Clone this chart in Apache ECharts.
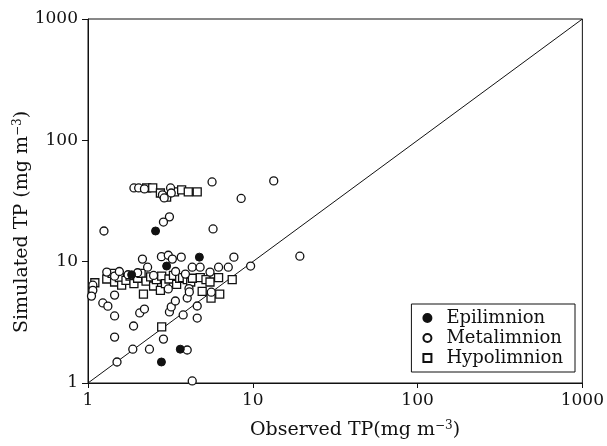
<!DOCTYPE html>
<html>
<head>
<meta charset="utf-8">
<script src="https://cdn.jsdelivr.net/npm/echarts@6/dist/echarts.min.js"></script>
<style>
  html, body { margin: 0; padding: 0; background: #fff; }
  #chart { width: 607px; height: 446px; }
</style>
</head>
<body>
<div id="chart"></div>
<script>
// observed TP (x) vs simulated TP (y), mg m-3
var seriesNames = ['Epilimnion', 'Metalimnion', 'Hypolimnion']

var epiData = [
  [2.57, 17.9], [4.74, 10.9], [3.0, 9.2], [1.84, 7.8],
  [2.79, 1.49], [3.63, 1.9]
]

var metaData = [
  // upper group
  [1.9, 40.5], [2.03, 40.5], [2.2, 39.8], [2.83, 35.5], [3.17, 40.5], [3.2, 36.8], [2.9, 33.5],
  [5.66, 45.4], [13.4, 46.3], [8.5, 33.2], [3.12, 23.4], [2.87, 21.2],
  [5.74, 18.6], [1.25, 17.9], [19.3, 11.1],
  // main group
  [1.07, 6.4], [1.07, 5.8], [1.05, 5.2], [1.3, 8.2], [1.45, 7.6], [1.55, 8.3],
  [1.75, 7.8], [2.0, 8.1], [2.14, 10.5], [2.3, 9.0], [2.5, 7.7], [2.79, 11.0],
  [3.07, 11.3], [3.25, 10.5], [3.68, 10.9], [3.4, 8.3], [3.9, 7.9], [4.29, 9.0],
  [4.79, 9.0], [5.5, 8.2], [6.2, 9.0], [7.1, 9.0], [7.68, 10.9], [9.7, 9.2],
  [4.1, 6.0], [3.07, 5.96], [5.6, 5.6],
  // lower group
  [1.45, 5.3], [1.23, 4.57], [1.32, 4.3], [1.45, 3.57], [2.06, 3.78], [2.2, 4.07],
  [1.89, 2.95], [1.45, 2.39], [1.87, 1.9], [1.5, 1.49], [2.36, 1.9], [2.87, 2.3],
  [4.0, 1.87], [4.29, 1.04], [3.12, 3.85], [3.2, 4.24], [3.39, 4.74], [4.0, 5.02],
  [4.12, 5.63], [4.6, 4.31], [4.6, 3.43], [3.78, 3.64]
]

var hypoData = [
  // upper group
  [2.27, 40.5], [2.47, 40.5], [2.75, 36.8], [3.0, 34.0], [3.35, 37.6], [3.7, 39.0],
  [4.06, 37.6], [4.6, 37.6],
  // main group
  [1.1, 6.7], [1.3, 7.2], [1.4, 8.0], [1.45, 6.8], [1.55, 7.4], [1.6, 6.4],
  [1.7, 7.0], [1.8, 7.6], [1.9, 6.6], [2.0, 7.3], [2.1, 8.0], [2.17, 5.4],
  [2.25, 6.9], [2.4, 7.5], [2.5, 6.3], [2.6, 7.1], [2.75, 5.8], [2.8, 7.6],
  [2.95, 6.6], [3.1, 7.2], [3.3, 7.7], [3.45, 6.5], [3.6, 7.3], [3.75, 7.4],
  [4.0, 7.1], [4.2, 6.8], [4.3, 7.3], [4.8, 7.4], [4.93, 5.7], [5.2, 7.1],
  [5.5, 6.8], [5.58, 5.0], [6.2, 7.4], [6.3, 5.4], [7.5, 7.1],
  // lower
  [2.8, 2.9]
]

// 1:1 line
var lineData = [[1, 1], [1000, 1000]]

var font = 'DejaVu Serif'
var supStyle = { fontFamily: font, fontSize: 12, fill: '#111', verticalAlign: 'top', padding: [0, 0, 9, 0] }

var chart = echarts.init(document.getElementById('chart'), null, { renderer: 'canvas' })

chart.setOption({
  animation: false,
  backgroundColor: '#fff',
  textStyle: { fontFamily: font, color: '#111' },
  grid: { left: 88, right: 22, top: 19, bottom: 63, show: true, borderColor: '#111', borderWidth: 1 },
  // axis titles placed by hand so they can sit off centre like the original
  graphic: [
    {
      type: 'text',
      x: 355,
      y: 430,
      style: {
        text: 'Observed TP(mg m{sup|−3})',
        fontFamily: font, fontSize: 19, fill: '#111',
        align: 'center', verticalAlign: 'middle',
        rich: { sup: supStyle }
      }
    },
    {
      type: 'text',
      x: 22,
      y: 222,
      rotation: Math.PI / 2,
      style: {
        text: 'Simulated TP (mg m{sup|−3})',
        fontFamily: font, fontSize: 19, fill: '#111',
        align: 'center', verticalAlign: 'middle',
        rich: { sup: supStyle }
      }
    }
  ],
  legend: {
    orient: 'vertical',
    right: 32,
    bottom: 74,
    data: seriesNames,
    backgroundColor: '#fff',
    borderColor: '#111',
    borderWidth: 1,
    borderRadius: 0,
    padding: [5, 12, 5, 11],
    itemGap: 2,
    itemWidth: 8,
    itemHeight: 8,
    textStyle: { fontFamily: font, fontSize: 18, color: '#111', padding: [0, 0, 0, 10] }
  },
  xAxis: {
    type: 'log',
    logBase: 10,
    min: 1,
    max: 1000,
    axisLine: { lineStyle: { color: '#111', width: 1 } },
    axisTick: { inside: false, length: 5, lineStyle: { color: '#111' } },
    axisLabel: {
      fontFamily: font, fontSize: 17, color: '#111', margin: 9,
      formatter: function (v) { return String(v) }
    },
    splitLine: { show: false }
  },
  yAxis: {
    type: 'log',
    logBase: 10,
    min: 1,
    max: 1000,
    axisLine: { lineStyle: { color: '#111', width: 1 } },
    axisTick: { inside: false, length: 6, lineStyle: { color: '#111' } },
    axisLabel: {
      fontFamily: font, fontSize: 17, color: '#111', margin: 10,
      formatter: function (v) { return String(v) }
    },
    splitLine: { show: false }
  },
  series: [
    {
      type: 'line',
      data: lineData,
      symbol: 'none',
      silent: true,
      lineStyle: { color: '#111', width: 1 },
      z: 1
    },
    {
      name: 'Hypolimnion',
      type: 'scatter',
      data: hypoData,
      symbol: 'rect',
      symbolSize: 8,
      itemStyle: { color: '#fff', borderColor: '#111', borderWidth: 1.3, opacity: 1 },
      z: 2
    },
    {
      name: 'Metalimnion',
      type: 'scatter',
      data: metaData,
      symbol: 'circle',
      symbolSize: 8,
      itemStyle: { color: '#fff', borderColor: '#111', borderWidth: 1.3, opacity: 1 },
      z: 3
    },
    {
      name: 'Epilimnion',
      type: 'scatter',
      data: epiData,
      symbol: 'circle',
      symbolSize: 8,
      itemStyle: { color: '#111', borderColor: '#111', borderWidth: 1, opacity: 1 },
      z: 4
    }
  ]
})
</script>
</body>
</html>
